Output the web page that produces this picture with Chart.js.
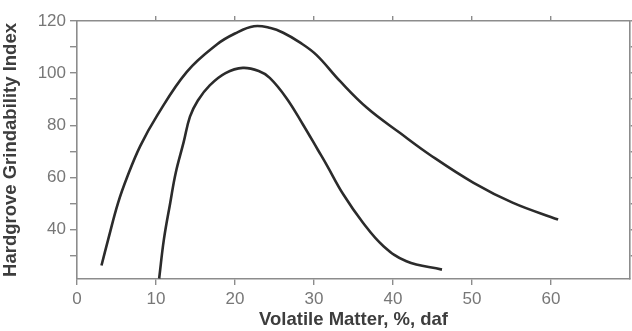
<!DOCTYPE html>
<html>
<head>
<meta charset="utf-8">
<script src="https://cdn.jsdelivr.net/npm/chart.js@4/dist/chart.umd.min.js"></script>
<style>
  html, body { margin: 0; padding: 0; background: #fff; }
  #wrap { width: 632px; height: 331px; }
</style>
</head>
<body>
<div id="wrap"><canvas id="c" width="632" height="331"></canvas></div>
<script>
// Upper (outer) curve
const outerX = [3.1, 3.95, 5.2, 6.4, 8.0, 10.1, 13.9, 17.7, 20.0, 22.4, 24.5, 26.1, 28.2, 30.3, 33.3, 36.7, 40.9, 44.7, 50.2, 55.2, 60.9];
const outerY = [26.2, 36.2, 50.2, 60.5, 72.0, 83.5, 100.5, 111.0, 115.2, 118.0, 117.3, 115.5, 111.8, 107.0, 96.9, 86.7, 77.0, 68.6, 57.9, 50.2, 43.8];
// Lower (inner) curve
const innerX = [10.4, 11.0, 11.8, 12.5, 13.5, 14.3, 15.3, 16.8, 18.8, 21.0, 23.0, 24.4, 26.5, 28.6, 30.5, 31.6, 33.7, 36.2, 38.8, 41.7, 46.2];
const innerY = [21.2, 36.2, 50.2, 61.8, 73.5, 83.3, 89.5, 95.3, 100.0, 102.0, 100.8, 98.2, 90.5, 80.3, 70.5, 64.8, 53.5, 42.6, 33.6, 27.8, 24.6];
// Axes
const xTicks = [0, 10, 20, 30, 40, 50, 60];
const xTopTicks = [10, 20, 30, 40, 50, 60];
const yTicks = [30, 40, 50, 60, 70, 80, 90, 100, 110, 120];
const yLabels = [40, 60, 80, 100, 120];
const xTitle = 'Volatile Matter, %, daf';
const yTitle = 'Hardgrove Grindability Index';

const pts = (xs, ys) => xs.map((x, i) => ({ x: x, y: ys[i] }));
const axisColor = '#8c8c8c';
const lineColor = '#2b2b2b';
const setTicks = arr => (s => { s.ticks = arr.map(v => ({ value: v })); });
const fam = 'Liberation Sans, Arial, sans-serif';

new Chart(document.getElementById('c'), {
  type: 'line',
  data: {
    datasets: [
      { data: pts(outerX, outerY), borderColor: lineColor, borderWidth: 2.6, pointRadius: 0, tension: 0.4, fill: false },
      { data: pts(innerX, innerY), borderColor: lineColor, borderWidth: 2.6, pointRadius: 0, tension: 0.4, fill: false }
    ]
  },
  options: {
    responsive: false,
    animation: false,
    layout: { padding: 0 },
    plugins: { legend: { display: false }, tooltip: { enabled: false } },
    scales: {
      x: {
        type: 'linear', position: 'bottom', min: 0, max: 70,
        afterBuildTicks: setTicks(xTicks),
        afterFit: s => { s.height = 52; },
        border: { display: true, color: axisColor, width: 1.6 },
        grid: { drawOnChartArea: false, drawTicks: true, tickLength: 6, color: axisColor, lineWidth: 1.4 },
        ticks: { color: '#777', font: { family: fam, size: 17 }, padding: 4, maxRotation: 0 },
        title: { display: true, text: xTitle, color: '#3d3d3d', font: { family: fam, size: 18.5, weight: 'bold' }, padding: { top: 0, bottom: 0 } }
      },
      x2: {
        type: 'linear', position: 'top', min: 0, max: 70,
        afterBuildTicks: setTicks(xTopTicks),
        afterFit: s => { s.height = 21; },
        border: { display: true, color: axisColor, width: 1.6 },
        grid: { drawOnChartArea: false, drawTicks: true, tickLength: 5, color: axisColor, lineWidth: 1.4 },
        ticks: { display: false }
      },
      y: {
        type: 'linear', position: 'left', min: 21, max: 120,
        afterBuildTicks: setTicks(yTicks),
        afterFit: s => { s.width = 77; },
        border: { display: true, color: axisColor, width: 1.6 },
        grid: { drawOnChartArea: false, drawTicks: true, tickLength: 7, color: axisColor, lineWidth: 1.4 },
        ticks: {
          color: '#777', font: { family: fam, size: 17 }, padding: 4,
          callback: v => (yLabels.includes(v) ? String(v) : '')
        },
        title: { display: true, text: yTitle, color: '#3d3d3d', font: { family: fam, size: 18.5, weight: 'bold' }, padding: { top: 0, bottom: 0 } }
      },
      y2: {
        type: 'linear', position: 'right', min: 21, max: 120,
        afterBuildTicks: setTicks(yTicks),
        afterFit: s => { s.width = 2; },
        border: { display: true, color: axisColor, width: 1.6 },
        grid: { drawOnChartArea: false, drawTicks: true, tickLength: 2, color: axisColor, lineWidth: 1.4 },
        ticks: { display: false }
      }
    }
  }
});
</script>
</body>
</html>
